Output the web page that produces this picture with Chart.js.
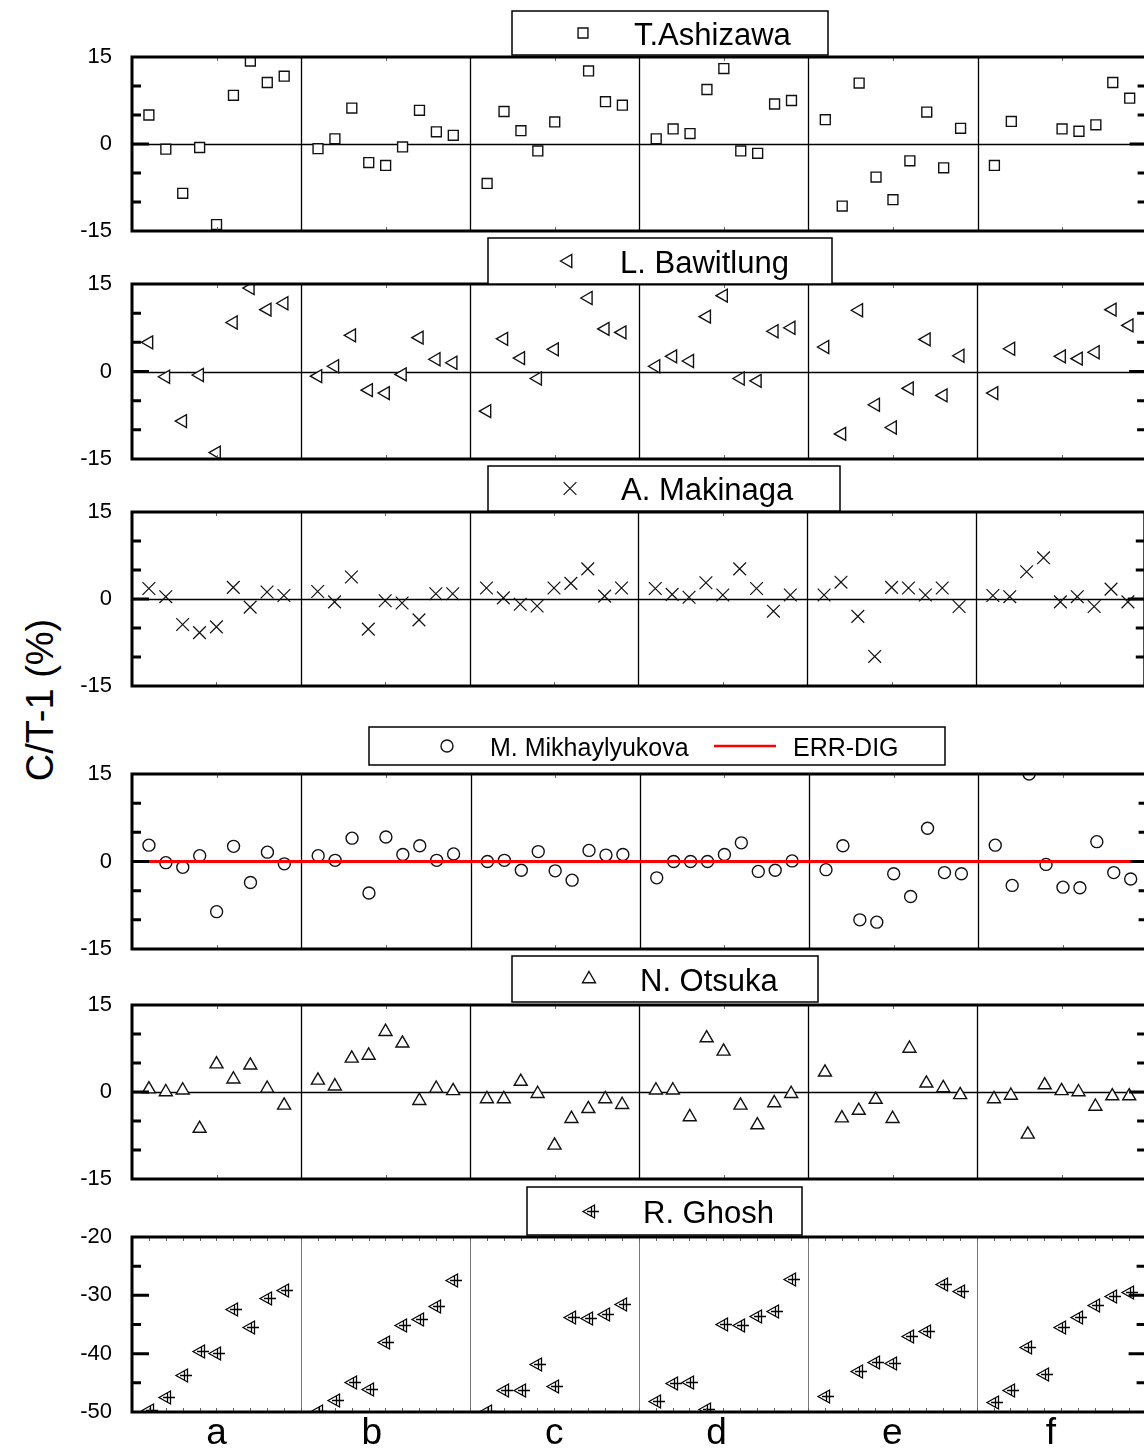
<!DOCTYPE html>
<html lang="en">
<head>
<meta charset="UTF-8">
<title>C/T-1 by participant</title>
<style>
  html, body { margin: 0; padding: 0; width: 1144px; height: 1456px; overflow: hidden; background: #fff; }
  canvas.panel { position: absolute; left: 0; top: 0; }
  #ylabel {
    position: absolute; left: 40px; top: 700px;
    transform: translate(-50%, -50%) rotate(-90deg);
    font: 38px "Liberation Sans", Arial, sans-serif; white-space: nowrap; color: #000;
  }
</style>
</head>
<body>
<div id="ylabel">C/T-1 (%)</div>
<script src="https://cdn.jsdelivr.net/npm/chart.js"></script>
<script>
// categories along x, 9 measurements in each
const categories = ['a', 'b', 'c', 'd', 'e', 'f'];
const xLabelPos = [5, 14.2, 25, 34.6, 45, 54.4];

const ashizawa = [
  [5.0, -0.9, -8.5, -0.6, -13.9, 8.4, 14.3, 10.6, 11.7],
  [-0.8, 0.9, 6.2, -3.2, -3.7, -0.5, 5.8, 2.1, 1.5],
  [-6.8, 5.6, 2.3, -1.2, 3.8, null, 12.6, 7.3, 6.7],
  [0.9, 2.6, 1.8, 9.4, 13.0, -1.2, -1.6, 6.9, 7.5],
  [4.2, -10.7, 10.5, -5.7, -9.6, -2.9, 5.5, -4.1, 2.7],
  [-3.7, 3.9, null, null, 2.6, 2.2, 3.3, 10.6, 7.9]
];
const bawitlung = [
  [5.0, -0.9, -8.5, -0.6, -13.9, 8.4, 14.3, 10.6, 11.7],
  [-0.8, 0.9, 6.2, -3.2, -3.7, -0.5, 5.8, 2.1, 1.5],
  [-6.8, 5.6, 2.3, -1.2, 3.8, null, 12.6, 7.3, 6.7],
  [0.9, 2.6, 1.8, 9.4, 13.0, -1.2, -1.6, 6.9, 7.5],
  [4.2, -10.7, 10.5, -5.7, -9.6, -2.9, 5.5, -4.1, 2.7],
  [-3.7, 3.9, null, null, 2.6, 2.2, 3.3, 10.6, 7.9]
];
const makinaga = [
  [1.8, 0.4, -4.4, -5.8, -4.8, 2.0, -1.4, 1.2, 0.6],
  [1.3, -0.5, 3.8, -5.2, -0.3, -0.7, -3.6, 0.9, 0.9],
  [1.9, 0.2, -0.9, -1.2, 1.9, 2.7, 5.2, 0.5, 1.9],
  [1.8, 0.8, 0.3, 2.8, 0.7, 5.2, 1.8, -2.1, 0.7],
  [0.7, 2.9, -3.0, -9.9, 2.0, 1.9, 0.7, 1.9, -1.3],
  [0.6, 0.4, 4.7, 7.1, -0.5, 0.4, -1.3, 1.7, -0.5]
];
const mikhaylyukova = [
  [2.8, -0.2, -1.0, 1.0, -8.6, 2.6, -3.6, 1.6, -0.4],
  [1.0, 0.2, 4.0, -5.4, 4.2, 1.2, 2.7, 0.2, 1.3],
  [0.0, 0.2, -1.5, 1.7, -1.6, -3.2, 1.9, 1.1, 1.2],
  [-2.8, 0.0, 0.0, 0.0, 1.2, 3.2, -1.7, -1.5, 0.1],
  [-1.4, 2.7, -10.0, -10.4, -2.1, -6.0, 5.7, -1.9, -2.1],
  [2.8, -4.1, 15.0, -0.5, -4.4, -4.5, 3.4, -1.9, -3.0]
];
const otsuka = [
  [0.5, 0.0, 0.3, -6.3, 4.8, 2.2, 4.6, 0.6, -2.3],
  [2.0, 1.0, 5.8, 6.3, 10.4, 8.4, -1.5, 0.6, 0.2],
  [-1.2, -1.2, 1.8, -0.3, -9.2, -4.6, -2.9, -1.2, -2.2],
  [0.3, 0.3, -4.3, 9.3, 7.0, -2.3, -5.7, -1.9, -0.3],
  [3.4, -4.5, -3.2, -1.3, -4.6, 7.5, 1.5, 0.7, -0.5],
  [-1.2, -0.6, -7.3, 1.2, 0.2, 0.0, -2.5, -0.7, -0.7]
];
const ghosh = [
  [-49.7, -47.5, -43.6, -39.6, -39.9, -32.3, -35.5, -30.4, -29.1],
  [-49.8, -48.0, -44.8, -46.0, -38.0, -35.1, -34.0, -31.9, -27.4],
  [-49.8, -46.2, -46.3, -41.7, -45.5, -33.7, -33.8, -33.2, -31.5],
  [-48.1, -45.1, -44.8, -49.4, -34.9, -35.0, -33.5, -32.6, -27.2],
  [-47.3, null, -43.0, -41.4, -41.6, -36.9, -36.1, -28.1, -29.2],
  [-48.2, -46.3, -38.9, -43.5, -35.5, -33.7, -31.7, -30.1, -29.5]
];
const errDigX = [0, 60];
const errDigY = [0, 0];

const FONT = '"Liberation Sans", Arial, sans-serif';
const CANVAS_W = 1155;

function toPoints(groups) {
  const pts = [];
  groups.forEach((g, ci) => g.forEach((v, j) => {
    if (v !== null) pts.push({ x: ci * 10 + j + 1, y: v });
  }));
  return pts;
}

// left-pointing triangle with a cross, used for R. Ghosh
function ghoshSymbol() {
  const c = document.createElement('canvas');
  c.width = 18; c.height = 18;
  const g = c.getContext('2d');
  g.strokeStyle = '#000';
  g.lineWidth = 1.3;
  g.beginPath();
  g.moveTo(2, 9.5); g.lineTo(13.5, 3); g.lineTo(13.5, 16); g.closePath();
  g.moveTo(6, 9.5); g.lineTo(18, 9.5);
  g.moveTo(10.5, 4.5); g.lineTo(10.5, 14.5);
  g.stroke();
  return c;
}

const markerBase = { borderColor: '#111', backgroundColor: '#fff', borderWidth: 1.4 };

const panels = [
  { name: 'T.Ashizawa', data: ashizawa, top: 57, bottom: 231,
    marker: { pointStyle: 'rect', radius: 7 },
    legend: { x: 512, y: 11, w: 316, h: 44, font: 31, mx: 583, tx: 634 } },
  { name: 'L. Bawitlung', data: bawitlung, top: 284, bottom: 459,
    marker: { pointStyle: 'triangle', radius: 7.5, rotation: -90 },
    legend: { x: 488, y: 238, w: 344, h: 46, font: 31, mx: 568, tx: 620 } },
  { name: 'A. Makinaga', data: makinaga, top: 512, bottom: 686,
    marker: { pointStyle: 'crossRot', radius: 9, borderWidth: 1.2 },
    legend: { x: 488, y: 466, w: 352, h: 45, font: 31, mx: 570, tx: 621 } },
  { name: 'M. Mikhaylyukova', data: mikhaylyukova, top: 774, bottom: 949, errDig: true,
    marker: { pointStyle: 'circle', radius: 6 },
    legend: { x: 369, y: 727, w: 576, h: 38, font: 25, mx: 447, tx: 490, lx1: 714, lx2: 776, lt: 793 } },
  { name: 'N. Otsuka', data: otsuka, top: 1005, bottom: 1179,
    marker: { pointStyle: 'triangle', radius: 7.5 },
    legend: { x: 512, y: 956, w: 306, h: 46, font: 31, mx: 589, tx: 640 } },
  { name: 'R. Ghosh', data: ghosh, top: 1237, bottom: 1412, last: true,
    marker: { pointStyle: ghoshSymbol(), radius: 8 },
    legend: { x: 527, y: 1187, w: 275, h: 48, font: 31, mx: 590, tx: 643 } }
];

const panelPlugin = {
  id: 'panelFrame',
  beforeDatasetsDraw(chart, args, opts) {
    const p = opts.panel;
    const { ctx, chartArea: a, scales: { x, y } } = chart;
    ctx.save();
    // category dividers
    ctx.strokeStyle = p.last ? '#777' : '#000';
    ctx.lineWidth = p.last ? 1 : 1.3;
    for (let k = 1; k < categories.length; k++) {
      const px = Math.round(x.getPixelForValue(k * 10)) + 0.5;
      ctx.beginPath(); ctx.moveTo(px, a.top); ctx.lineTo(px, a.bottom); ctx.stroke();
    }
    // zero line
    if (!p.last && !p.errDig) {
      const py = Math.round(y.getPixelForValue(0)) + 0.5;
      ctx.strokeStyle = '#000'; ctx.lineWidth = 1.3;
      ctx.beginPath(); ctx.moveTo(a.left, py); ctx.lineTo(a.right, py); ctx.stroke();
    }
    ctx.restore();
    // keep the image symbols crisp
    ctx.imageSmoothingEnabled = false;
  },
  afterDatasetsDraw(chart, args, opts) {
    const p = opts.panel;
    const { ctx, chartArea: a, scales: { x, y } } = chart;
    ctx.imageSmoothingEnabled = true;
    ctx.save();
    // small ticks along top and bottom edges
    ctx.lineWidth = 1;
    ctx.strokeStyle = '#666';
    const small = [];
    if (p.last) { for (let v = 1; v < 60; v++) small.push(v); }
    else { for (let v = 5; v < 60; v += 10) small.push(v); }
    small.forEach(v => {
      const px = Math.round(x.getPixelForValue(v)) + 0.5;
      ctx.beginPath();
      ctx.moveTo(px, a.top); ctx.lineTo(px, a.top + 4);
      ctx.moveTo(px, a.bottom); ctx.lineTo(px, a.bottom - 4);
      ctx.stroke();
    });
    // frame
    ctx.strokeStyle = '#000';
    ctx.lineWidth = 3;
    ctx.strokeRect(a.left, a.top, a.right - a.left, a.bottom - a.top);
    // inward y ticks, left and right
    const major = p.last ? [-30, -40] : [0];
    const minor = p.last ? [-25, -35, -45] : [-10, -5, 5, 10];
    const tick = (v, len) => {
      const py = y.getPixelForValue(v);
      ctx.beginPath();
      ctx.moveTo(a.left, py); ctx.lineTo(a.left + len, py);
      ctx.moveTo(a.right, py); ctx.lineTo(a.right - len, py);
      ctx.stroke();
    };
    major.forEach(v => tick(v, 17));
    minor.forEach(v => tick(v, 9));
    ctx.restore();
  },
  afterDraw(chart, args, opts) {
    const p = opts.panel;
    const L = p.legend;
    const ctx = chart.ctx;
    ctx.save();
    ctx.fillStyle = '#fff';
    ctx.fillRect(L.x, L.y, L.w, L.h);
    ctx.strokeStyle = '#000';
    ctx.lineWidth = 1.5;
    ctx.strokeRect(L.x, L.y, L.w, L.h);
    const cy = L.y + L.h / 2;
    const m = Object.assign({}, markerBase, p.marker);
    ctx.strokeStyle = m.borderColor;
    ctx.fillStyle = m.backgroundColor;
    ctx.lineWidth = m.borderWidth;
    Chart.helpers.drawPoint(ctx, { pointStyle: m.pointStyle, radius: m.radius, rotation: m.rotation || 0, borderWidth: m.borderWidth }, L.mx, cy);
    ctx.fillStyle = '#000';
    ctx.font = L.font + 'px ' + FONT;
    ctx.textBaseline = 'middle';
    ctx.fillText(p.name, L.tx, cy + 3);
    if (p.errDig) {
      ctx.strokeStyle = '#ff0000';
      ctx.lineWidth = 2.5;
      ctx.beginPath(); ctx.moveTo(L.lx1, cy); ctx.lineTo(L.lx2, cy); ctx.stroke();
      ctx.fillText('ERR-DIG', L.lt, cy + 3);
    }
    ctx.restore();
  }
};

function makePanel(p) {
  const canvas = document.createElement('canvas');
  canvas.className = 'panel';
  canvas.width = CANVAS_W;
  canvas.height = 1456;
  canvas.style.width = CANVAS_W + 'px';
  canvas.style.height = '1456px';
  document.body.appendChild(canvas);

  const m = Object.assign({}, markerBase, p.marker);
  const datasets = [];
  if (p.errDig) {
    datasets.push({
      label: 'ERR-DIG',
      type: 'line',
      data: errDigX.map((v, i) => ({ x: v, y: errDigY[i] })),
      borderColor: '#ff0000',
      borderWidth: 3,
      pointRadius: 0,
      clip: 0
    });
  }
  datasets.push({
    label: p.name,
    data: toPoints(p.data),
    showLine: false,
    pointStyle: m.pointStyle,
    pointRadius: m.radius,
    pointRotation: m.rotation || 0,
    pointBorderColor: m.borderColor,
    pointBackgroundColor: m.backgroundColor,
    pointBorderWidth: m.borderWidth,
    clip: 0
  });

  const xScale = {
    type: 'linear', min: 0, max: 60,
    display: !!p.last,
    grid: { display: false, drawTicks: false },
    border: { display: false },
    ticks: { display: false }
  };
  if (p.last) {
    xScale.afterBuildTicks = s => { s.ticks = xLabelPos.map(v => ({ value: v })); };
    xScale.afterFit = s => { s.height = 1456 - p.bottom; };
    xScale.ticks = {
      padding: 0,
      autoSkip: false,
      maxRotation: 0,
      color: '#000',
      font: { family: FONT, size: 37 },
      callback: (v, i) => categories[i]
    };
  }

  new Chart(canvas, {
    type: 'scatter',
    data: { datasets },
    options: {
      responsive: false,
      animation: false,
      devicePixelRatio: 1,
      events: [],
      layout: { padding: { top: p.top, bottom: p.last ? 0 : 1456 - p.bottom, left: 0, right: 4 } },
      plugins: {
        legend: { display: false },
        tooltip: { enabled: false },
        panelFrame: { panel: p }
      },
      scales: {
        x: xScale,
        y: {
          min: p.last ? -50 : -15,
          max: p.last ? -20 : 15,
          grid: { display: false, drawTicks: false },
          border: { display: false },
          afterFit: s => { s.width = 132; },
          ticks: {
            stepSize: p.last ? 10 : 15,
            padding: 20,
            color: '#000',
            font: { family: FONT, size: 22 }
          }
        }
      }
    },
    plugins: [panelPlugin]
  });
}

panels.forEach(makePanel);
</script>
</body>
</html>
